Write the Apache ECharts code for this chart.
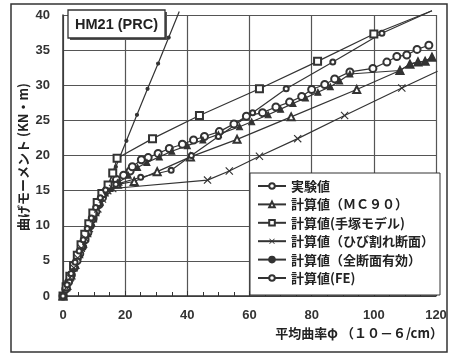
<!DOCTYPE html>
<html><head><meta charset="utf-8">
<script src="https://cdn.jsdelivr.net/npm/echarts@6/dist/echarts.min.js"></script>
<style>html,body{margin:0;padding:0;background:#fff}#c{width:451px;height:356px}</style>
</head><body><div id="c"></div>
<script>
// ---- axis ranges / ticks ----
const xMin = 0, xMax = 120, xStep = 20;
const yMin = 0, yMax = 40, yStep = 5;

// ---- series names ----
const nameExp    = '実験値';
const nameMC90   = '計算値（ＭＣ９０）';
const nameTezuka = '計算値(手塚モデル)';
const nameCrack  = '計算値（ひび割れ断面）';
const nameFull   = '計算値（全断面有効）';
const nameFE     = '計算値(FE)';

// ---- data [curvature, moment] ----
const experimental = [[0,0],[0.9,1],[1.8,2],[2.7,3],[3.6,4],[4.5,5],[5.4,6],[6.3,7],[7.1,8],[8,9],[8.8,10],[9.7,11],[10.6,12],[11.6,13],[12.7,14],[14,15],[15.5,15.8],[17.2,16.6],[19.5,17.2],[21.6,17.8],[22.3,18.4],[25.2,19.4],[27.4,19.7],[30.6,20.3],[34.2,21],[38.4,21.6],[42,22.2],[45.5,22.7],[50.3,23.4],[55,24.5],[59,25.6],[64.2,26.1],[68.5,26.9],[72.9,27.6],[76.8,28.4],[80,29.4],[84.2,30.1],[87.4,30.9],[92.3,31.9],[99.7,32.4],[104.2,33.3],[107.4,34.1],[110.6,34.3],[113.9,35.1],[117.7,35.7]];
const mc90 = [[0,0],[1.2,1.5],[2.5,3],[3.8,4.5],[5,6],[6.3,7.5],[7.6,9],[8.9,10.5],[10.2,12],[11.6,13.5],[13.2,14.8],[15,15.5],[17.5,15.9],[22.9,16.3],[30.3,17.7],[41,19.8],[56,22.3],[73.4,25.5],[94.5,29.4],[108.4,32.1],[111.6,33],[114.2,33.3],[116.5,33.4],[118.7,34]];
const mc90Upper = [[15,15.3],[18,16.2],[21,17.2],[24,18.3],[27,19],[31,19.8],[35,20.6],[40,21.4],[45,22.2],[50,23],[56.8,24.1],[60.7,24.8],[66,25.8],[70,26.6],[74,27.4],[78,28.2],[82,29],[86,29.8],[89,30.6],[92.3,31.6],[108.4,32.1],[111.6,33],[114.2,33.3],[116.5,33.4],[118.7,34]];
const tezuka = [[0,0],[1,1.3],[2.2,2.8],[3.4,4.3],[4.6,5.8],[5.8,7.3],[7,8.8],[8.3,10.3],[9.6,11.8],[11,13.3],[12.5,14.6],[14.5,15.8],[16,17.5],[17.4,19.6],[28.8,22.4],[43.9,25.7],[63.2,29.5],[81.9,33.4],[100,37.3],[118.7,40.6]];
const cracked = [[0,0],[1.1,1.2],[2.3,2.6],[3.5,4],[4.7,5.4],[5.9,6.8],[7.2,8.2],[8.5,9.6],[9.8,11],[11.2,12.4],[12.7,13.8],[14.4,15],[16,15.3],[46.5,16.5],[53.5,17.8],[63.2,19.9],[75.5,22.4],[90.6,25.7],[109,29.6],[120.5,32]];
const fullSection = [[0,0],[3.4,3.7],[6.8,7.4],[10.2,11],[13.6,14.7],[17,18.4],[20.4,22.1],[23.8,25.8],[27.2,29.5],[30.6,33.1],[34,36.8],[37.4,40.5]];
const fe = [[0,0],[1.3,1.6],[2.6,3.2],[3.9,4.8],[5.2,6.4],[6.5,8],[7.8,9.6],[9.1,11.1],[10.5,12.6],[12,14],[13.7,15.1],[17,15.9],[25,16.9],[34.8,17.9],[41.3,20],[50,22.7],[61,26.1],[71.8,29.5],[86.8,33.3],[102.6,37.4],[118.7,40.6]];

const INK = '#333';
const crossPath = 'path://M0,1L1,0L5,4L9,0L10,1L6,5L10,9L9,10L5,6L1,10L0,9L4,5Z';
function endless(arr){ // last point drawn without a marker
  return arr.map((p,i)=> i===arr.length-1 ? {value:p, symbol:'none'} : p);
}
function mk(name, data, symbol, size, extra){
  return Object.assign({
    type:'line', name, data, symbol, symbolSize:size, clip:false,
    lineStyle:{color:INK, width:1.2},
    itemStyle:{color:INK, borderColor:INK, borderWidth:1.1},
    emphasis:{disabled:true}, animation:false
  }, extra||{});
}

const chart = echarts.init(document.getElementById('c'), null, {renderer:'canvas'});
chart.setOption({
  backgroundColor:'#fff',
  animation:false,
  grid:{left:63, right:15, top:15, bottom:60},
  xAxis:{type:'value', min:xMin, max:xMax, interval:xStep,
    axisLine:{lineStyle:{color:INK, width:1.5}},
    axisTick:{inside:true, length:5, lineStyle:{color:INK}},
    minorTick:{show:true, splitNumber:4, length:4, lineStyle:{color:INK}},
    splitLine:{show:true, lineStyle:{color:'#555', width:1.2}},
    axisLabel:{margin:13, color:'#333', fontFamily:'Liberation Sans', fontWeight:'bold', fontSize:13}},
  yAxis:{type:'value', min:yMin, max:yMax, interval:yStep,
    axisLine:{show:true, lineStyle:{color:INK, width:1.5}},
    axisTick:{show:false},
    splitLine:{show:true, lineStyle:{color:'#555', width:1.2}},
    axisLabel:{margin:13, color:'#333', fontFamily:'Liberation Sans', fontWeight:'bold', fontSize:13}},
  legend:{orient:'vertical', left:250, top:173, padding:[6,6,10,7], itemGap:4.4,
    itemWidth:28, itemHeight:7, backgroundColor:'#fff', borderColor:INK, borderWidth:1,
    data:[nameExp,nameMC90,nameTezuka,nameCrack,nameFull,nameFE],
    selectedMode:false,
    textStyle:{fontFamily:'Noto Sans CJK JP', fontWeight:'bold', fontSize:13, lineHeight:14, color:'#222'}},
  series:[
    mk(nameExp, experimental, 'emptyCircle', 7),
    mk(nameMC90, mc90, 'emptyTriangle', 7),
    mk(nameMC90, mc90Upper, 'triangle', 6),
    mk(nameTezuka, endless(tezuka), 'emptyRect', 7),
    mk(nameCrack, endless(cracked), crossPath, 8, {itemStyle:{color:INK, borderWidth:0}}),
    mk(nameFull, endless(fullSection), 'circle', 3),
    mk(nameFE, endless(fe), 'emptyCircle', 5)
  ],
  graphic:[
    {type:'rect', shape:{x:11, y:4, width:436, height:348}, style:{fill:null, stroke:INK, lineWidth:1.5}, z:0, silent:true},
    {type:'rect', shape:{x:70, y:12, width:97, height:28}, style:{fill:'#555'}, z:100, silent:true},
    {type:'rect', shape:{x:68, y:10, width:97, height:28}, style:{fill:'#fff', stroke:INK, lineWidth:1.3}, z:101, silent:true},
    {type:'text', x:116.5, y:25, z:102, silent:true, style:{text:'HM21 (PRC)', fill:'#222', font:'bold 14.5px "Liberation Sans"', textAlign:'center', textVerticalAlign:'middle'}},
    {type:'text', x:23, y:157, rotation:Math.PI/2, z:102, silent:true, style:{text:'曲げモーメント (KN・m)', fill:'#222', font:'bold 13px "Noto Sans CJK JP"', textAlign:'center', textVerticalAlign:'middle'}},
    {type:'text', x:443, y:333, z:102, silent:true, style:{text:'平均曲率φ （１０－６/cm）', fill:'#222', font:'bold 13px "Noto Sans CJK JP"', textAlign:'right', textVerticalAlign:'middle'}}
  ]
});
</script>
</body></html>
